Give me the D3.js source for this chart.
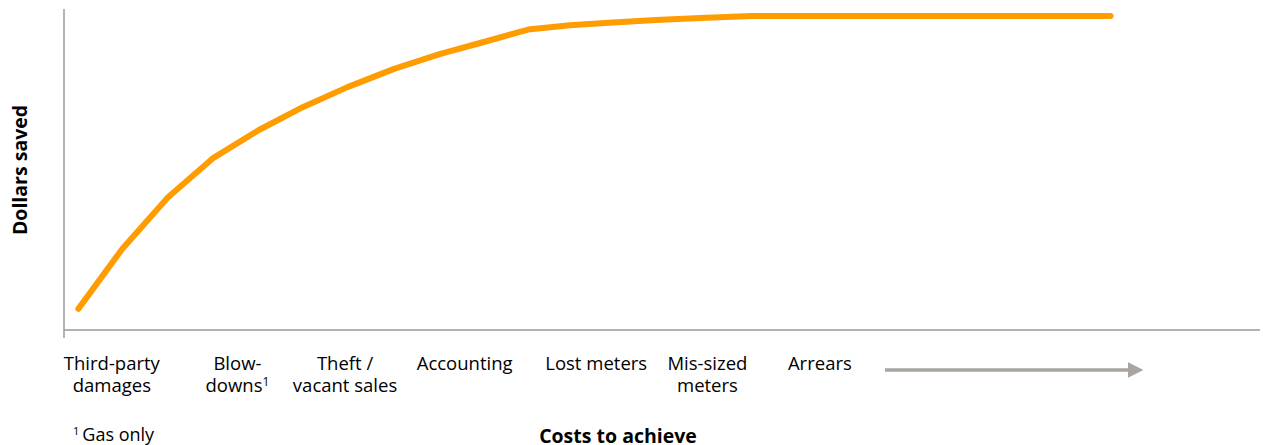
<!DOCTYPE html>
<html>
<head>
<meta charset="utf-8">
<script src="https://cdn.jsdelivr.net/npm/d3@7"></script>
<style>
  html, body { margin: 0; padding: 0; background: #fff; }
  svg { display: block; }
  text { font-family: "Open Sans", "DejaVu Sans", sans-serif; fill: #000; }
</style>
</head>
<body>
<svg id="chart" width="1263" height="445"></svg>
<script>
// ---- data (cost units on x, savings units on y) ----
const costs   = [1.2, 4.9, 8.7, 12.5, 16.3, 20.0, 23.7, 27.6, 31.4, 35.1, 38.8, 42.3, 45.9, 49.5, 53.2, 57.5, 87.5];
const savings = [6.6, 25.5, 41.5, 53.8, 62.5, 69.7, 75.9, 81.6, 86.2, 90.0, 93.9, 95.2, 96.1, 96.9, 97.5, 98.1, 98.1];
const categories = [
  ["Third-party", "damages"],
  ["Blow-", "downs"],
  ["Theft /", "vacant sales"],
  ["Accounting"],
  ["Lost meters"],
  ["Mis-sized", "meters"],
  ["Arrears"]
];
const categoryCost = [4.0, 14.5, 23.5, 33.5, 44.5, 53.8, 63.2];
const footnoteOn = [false, true, false, false, false, false, false];
const xTitle = "Costs to achieve";
const yTitle = "Dollars saved";
const footnote = "Gas only";

const svg = d3.select("#chart");
const x = d3.scaleLinear().domain([0, 100]).range([64, 1260]);
const y = d3.scaleLinear().domain([0, 100]).range([330, 10]);

// axes (no ticks)
svg.append("line").attr("x1", x(0)).attr("x2", x(0)).attr("y1", 9).attr("y2", 338)
  .attr("stroke", "#9a9a9a").attr("stroke-width", 1.5);
svg.append("line").attr("x1", x(0)).attr("x2", x(100)).attr("y1", y(0)).attr("y2", y(0))
  .attr("stroke", "#9a9a9a").attr("stroke-width", 1.5);

// curve
const line = d3.line().x((d, i) => x(costs[i])).y(d => y(d));
svg.append("path").datum(savings).attr("d", line)
  .attr("fill", "none").attr("stroke", "#ff9c00").attr("stroke-width", 6)
  .attr("stroke-linecap", "round").attr("stroke-linejoin", "round");

// category labels
const lab = svg.append("g").attr("font-size", 18.5);
categories.forEach((lines, i) => {
  const t = lab.append("text").attr("x", x(categoryCost[i])).attr("y", 370).attr("text-anchor", "middle");
  lines.forEach((l, j) => {
    t.append("tspan").attr("x", x(categoryCost[i])).attr("dy", j === 0 ? 0 : 22).text(l);
    if (footnoteOn[i] && j === lines.length - 1) {
      t.append("tspan").attr("font-size", 12).attr("dy", -6).text("1");
    }
  });
});

// grey arrow
const defs = svg.append("defs");
defs.append("marker").attr("id", "arr").attr("viewBox", "0 0 10 10")
  .attr("refX", 0).attr("refY", 5).attr("markerWidth", 4.4).attr("markerHeight", 4.4)
  .attr("markerUnits", "strokeWidth").attr("orient", "auto")
  .append("path").attr("d", "M0,0 L10,5 L0,10 Z").attr("fill", "#a9a5a0");
svg.append("line").attr("x1", 885).attr("x2", 1128).attr("y1", 370).attr("y2", 370)
  .attr("stroke", "#a9a5a0").attr("stroke-width", 3.5).attr("marker-end", "url(#arr)");

// titles
svg.append("text").attr("x", 618).attr("y", 443).attr("text-anchor", "middle")
  .attr("font-size", 19.5).attr("font-weight", "bold").text(xTitle);
svg.append("text").attr("transform", "translate(27,170) rotate(-90)").attr("text-anchor", "middle")
  .attr("font-size", 19.5).attr("font-weight", "bold").text(yTitle);

// footnote
const fn = svg.append("text").attr("x", 73).attr("y", 441).attr("font-size", 18);
fn.append("tspan").attr("font-size", 11).attr("dy", -6).text("1");
fn.append("tspan").attr("dy", 6).attr("dx", 3).text(footnote);
</script>
</body>
</html>
